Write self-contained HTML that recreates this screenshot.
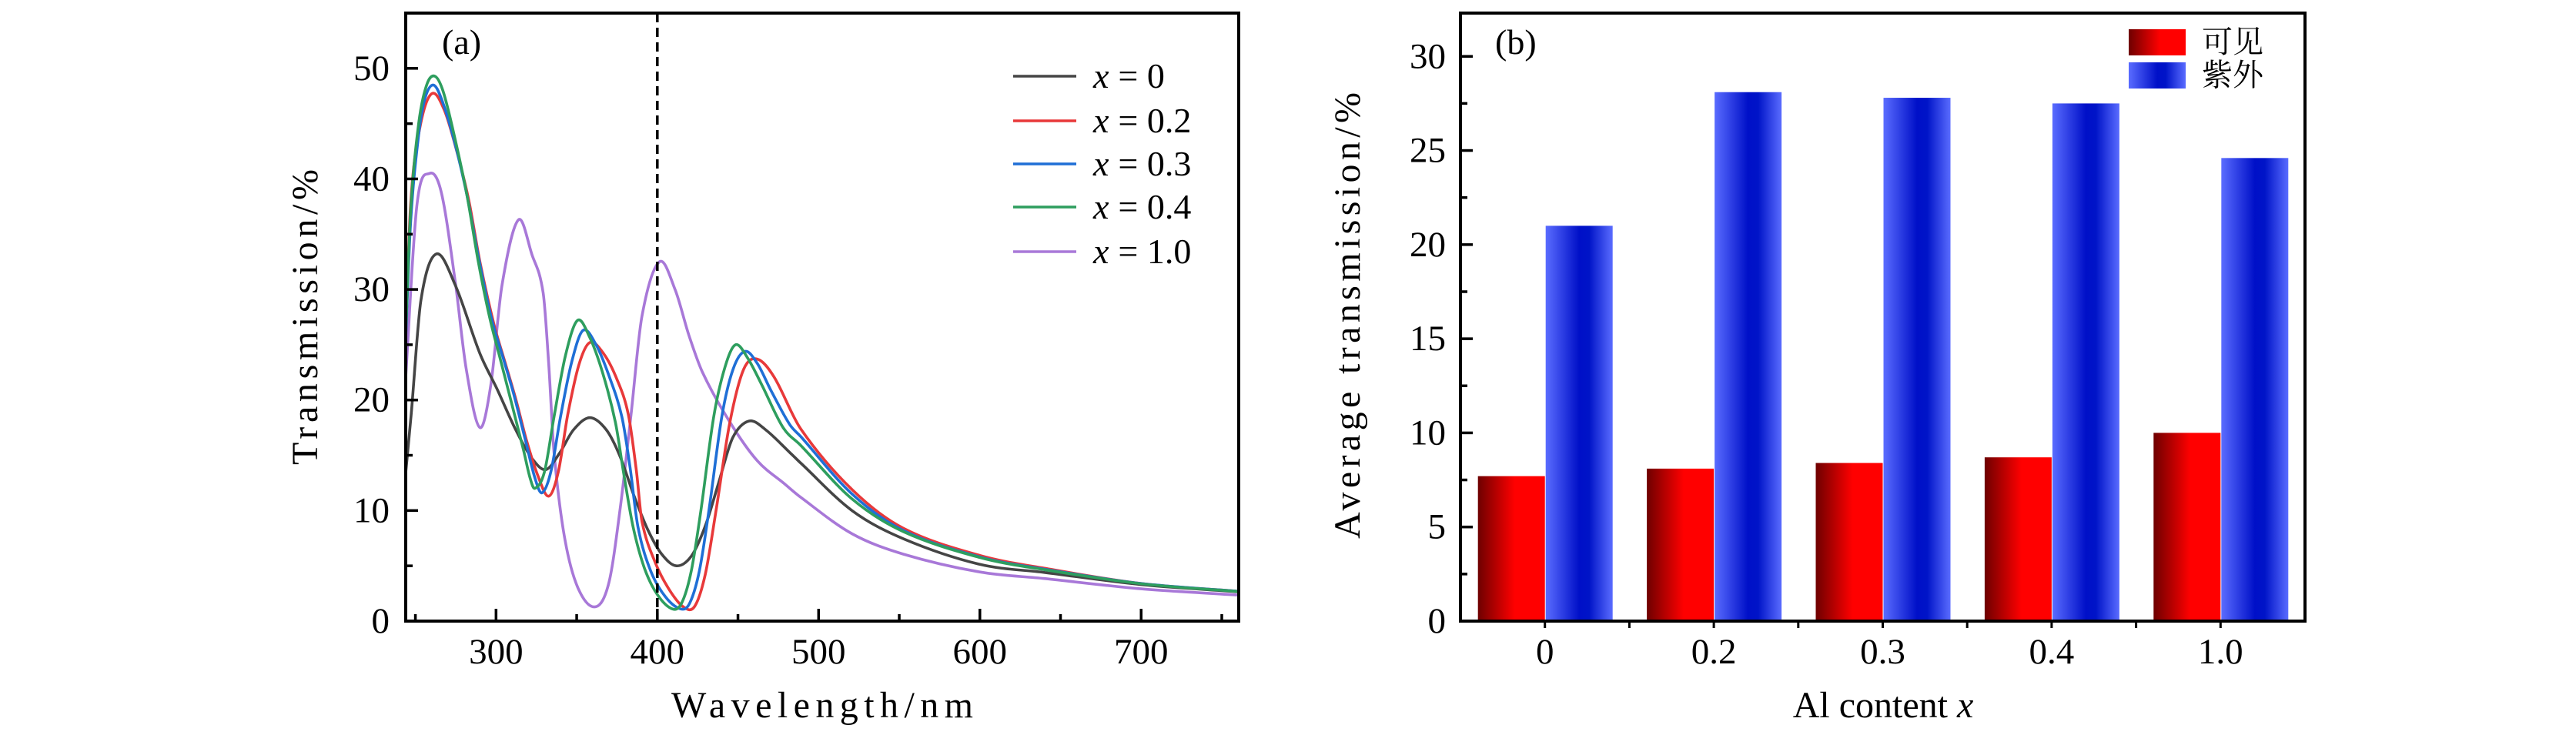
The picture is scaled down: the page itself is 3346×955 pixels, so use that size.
<!DOCTYPE html>
<html><head><meta charset="utf-8"><style>
html,body{margin:0;padding:0;background:#fff;}
svg{display:block;}
text{font-family:"Liberation Serif","Noto Serif CJK SC",serif;fill:#000;}
</style></head><body>
<svg id="fig" width="3346" height="955" viewBox="0 0 3346 955" xmlns="http://www.w3.org/2000/svg">
<defs>
<linearGradient id="gRed" x1="0" x2="1" y1="0" y2="0">
<stop offset="0" stop-color="#6e0000"/><stop offset="0.55" stop-color="#ff0000"/><stop offset="1" stop-color="#ff0000"/></linearGradient>
<linearGradient id="gBlue" x1="0" x2="1" y1="0" y2="0">
<stop offset="0" stop-color="#5a6cff"/><stop offset="0.5" stop-color="#0010c8"/><stop offset="0.65" stop-color="#0014c8"/><stop offset="1" stop-color="#5a6cff"/></linearGradient>
</defs>
<g id="panelA"></g>
<g id="panelB"></g>
</svg>
<script>
// ---------- Panel (a) data ----------
const seriesNames = ["x = 0","x = 0.2","x = 0.3","x = 0.4","x = 1.0"];
const seriesLabels = ["0","0.2","0.3","0.4","1.0"];
const seriesColors = ["#454545","#e8393a","#1f6fd6","#2e9e5e","#a878d8"];
const wlX0 = [243.7,247.4,253.4,262.8,274.7,290,300.3,312.2,322.4,330.9,339.4,348,358.2,368.4,376.9,385.4,394,402.5,411.8,421.2,430,438,446.8,457,467.2,482.5,488.9,520.7,552.5,600,640,700,760];
const tX0 = [13.0,18.7,29.0,33.2,30.4,24.2,21.1,17.3,14.7,13.7,15.2,17.3,18.4,17.3,14.9,11.4,8.3,6.1,5.0,5.9,8.7,12.5,16.6,18.1,17.3,15.2,14.3,10.0,7.45,5.13,4.4,3.3,2.65];
const wlX02 = [243.7,247,252.6,260,268,276.4,283.2,290,298.6,305.4,312.2,319,325.8,332.6,338.6,344.5,351.4,358.2,366.7,375.2,382,387.1,390.5,399,407.6,416,423,429.7,436.5,445,453.6,462,472.3,488.9,520.7,552.5,600,640,700,760];
const tX02 = [24.5,37.6,44.5,47.7,46.2,42.1,38.0,32.5,26.9,23.5,20.1,16.3,13.2,11.3,13.5,18.7,23.2,25.2,24.2,21.8,18.7,13.5,9.0,5.2,2.8,1.3,1.3,4.2,10.1,18.0,22.8,23.7,22.1,17.4,11.9,8.4,5.94,4.78,3.4,2.7];
const wlX03 = [243.7,247,252,256,261,266,274,282,289,297,304,311,318,324,328.4,334,340,347,354,362,370,378,383,388,396,405,414.4,420,426,432,440,447,454.4,462,470,482,488.9,520.7,552.5,600,640,700,760];
const tX03 = [24.5,36,44,47.3,48.5,47.3,43.5,38.5,33,27.5,24,20.5,16.5,13,11.6,13.5,18.5,23.5,26.3,25,22.2,18.5,14,8.5,4.5,2.2,1.1,1.6,4.5,10,18.5,22.8,24.4,23.3,21,17.8,16.7,11.5,8.2,5.8,4.7,3.4,2.7];
const wlX04 = [243.7,247,252,257,262,267,274,282,289,296,303,310,317,321,324,330,336,343,350.5,358,366,374,379,385,392,400,409.3,415,421,427,435,442,448.5,456,465,478,488.9,520.7,552.5,600,640,700,760];
const tX04 = [25,37,45,48.5,49.3,48,44,38.5,32.5,27.5,23.5,19.5,15.5,13,12,13.5,18.5,24,27.2,25.7,22.5,18,13.5,8.5,4.8,2.4,1.1,1.6,4.5,10,18.5,23,25,23.8,21.3,17.5,15.9,11.05,8.1,5.75,4.65,3.38,2.68];
const wlX10 = [243.7,250.9,258.9,266.2,274.7,281.5,290,296.8,303.7,313.9,322.4,329.2,332.6,336,342.8,351.4,362,370,376.9,383.7,390.5,401.3,411,419.5,428,445,462,479,488.9,520.7,552.5,600,640,700,760];
const tX10 = [21.4,37.6,40.5,38.7,30.7,22.8,17.5,21.4,30.4,36.3,33.1,29.7,23.4,15.2,7.3,2.8,1.3,3.5,10.1,18.7,27.6,32.5,30.0,25.9,22.5,18.0,14.5,12.4,11.2,7.9,6.06,4.44,3.85,2.92,2.35];
const xTicksA = [300,400,500,600,700];
const yTicksA = [0,10,20,30,40,50];
const markerWl = [400];

// ---------- Panel (b) data ----------
const catLabels = ["0","0.2","0.3","0.4","1.0"];
const visValues = [7.7,8.1,8.4,8.7,10.0];
const uvValues = [21.0,28.1,27.8,27.5,24.6];
const yTicksB = [0,5,10,15,20,25,30];
const legendB = ["可见","紫外"];

const NS="http://www.w3.org/2000/svg";
function mk(parent,tag,attrs,txt){const e=document.createElementNS(NS,tag);for(const k in attrs)e.setAttribute(k,attrs[k]);if(txt!==undefined)e.textContent=txt;parent.appendChild(e);return e;}

// ===== Panel A =====
const A=document.getElementById('panelA');
const aL=527,aR=1609,aT=17,aB=807,xMinA=244.0,xMaxA=760.5,yMaxA=55;
const xA=v=>aL+(v-xMinA)/(xMaxA-xMinA)*(aR-aL);
const yA=v=>aB-v/yMaxA*(aB-aT);
function smoothPath(xs,ys){
  const n=xs.length, m=[];
  for(let i=0;i<n;i++){
    const a=Math.max(0,i-1), b=Math.min(n-1,i+1);
    m.push((ys[b]-ys[a])/(xs[b]-xs[a]));
  }
  let d="M"+xA(xs[0]).toFixed(1)+","+yA(ys[0]).toFixed(1);
  for(let i=0;i<n-1;i++){
    const h=xs[i+1]-xs[i];
    const c1x=xs[i]+h/3, c1y=ys[i]+m[i]*h/3;
    const c2x=xs[i+1]-h/3, c2y=ys[i+1]-m[i+1]*h/3;
    d+=" C"+xA(c1x).toFixed(1)+","+yA(c1y).toFixed(1)+" "+xA(c2x).toFixed(1)+","+yA(c2y).toFixed(1)+" "+xA(xs[i+1]).toFixed(1)+","+yA(ys[i+1]).toFixed(1);
  }
  return d;
}
const clipA=mk(document.querySelector('defs'),'clipPath',{id:'clipA'});
mk(clipA,'rect',{x:aL,y:aT,width:aR-aL,height:aB-aT});
const wls=[wlX0,wlX02,wlX03,wlX04,wlX10], ts=[tX0,tX02,tX03,tX04,tX10];
const curveG=mk(A,'g',{'clip-path':'url(#clipA)'});


markerWl.forEach(w=>{
  const l=mk(A,'line',{x1:xA(w),x2:xA(w),y1:aT,y2:aB,stroke:'#000','stroke-width':3.5,'stroke-dasharray':'12,7'});
  
  
});
[4,0,1,2,3].forEach(i=>{
  const c=mk(curveG,'path',{d:smoothPath(wls[i],ts[i]),fill:'none',stroke:seriesColors[i],'stroke-width':3.6,'stroke-linejoin':'round'});
  
  
});
const fA=mk(A,'rect',{x:aL,y:aT,width:aR-aL,height:aB-aT,fill:'none',stroke:'#000','stroke-width':4});


for(let w=250;w<=750;w+=50){
  const major=w%100===0;
  mk(A,'line',{x1:xA(w),x2:xA(w),y1:aB,y2:aB-(major?16:9),stroke:'#000','stroke-width':3.5});
}
xTicksA.forEach(w=>{
  const t=mk(A,'text',{x:xA(w),y:862,'font-size':47,'text-anchor':'middle'},String(w));
  
  
});
for(let v=0;v<=50;v+=5){
  const major=v%10===0;
  mk(A,'line',{x1:aL,x2:aL+(major?16:9),y1:yA(v),y2:yA(v),stroke:'#000','stroke-width':3.5});
}
yTicksA.forEach(v=>{
  const t=mk(A,'text',{x:506,y:yA(v)+15,'font-size':47,'text-anchor':'end'},String(v));
  
  
});
let t;
t=mk(A,'text',{x:0,y:0,'font-size':48,'text-anchor':'middle',transform:'translate(412,412) rotate(-90)',textLength:384,lengthAdjust:'spacing'},'Transmission/%');


t=mk(A,'text',{x:1068,y:932,'font-size':48,'text-anchor':'middle',textLength:392,lengthAdjust:'spacing'},'Wavelength/nm');


t=mk(A,'text',{x:574,y:70,'font-size':46},'(a)');


const legRows=[99,157,213,269,327];
seriesNames.forEach((n,i)=>{
  const g=mk(A,'g',{});
  
  
  mk(g,'line',{x1:1316,x2:1398,y1:legRows[i],y2:legRows[i],stroke:seriesColors[i],'stroke-width':3.6});
  const tx=mk(g,'text',{x:1420,y:legRows[i]+15,'font-size':46});
  mk(tx,'tspan',{'font-style':'italic'},'x');
  mk(tx,'tspan',{dx:12},'= '+seriesLabels[i]);
});

// ===== Panel B =====
const B=document.getElementById('panelB');
const bL=1897,bR=2994,bT=17,bB=807,yMaxB=32.3;
const slot=(bR-bL)/catLabels.length;
const xB=i=>bL+slot*(i+0.5);
const yB=v=>bB-v/yMaxB*(bB-bT);
const barW=87;
catLabels.forEach((c,i)=>{
  const r=mk(B,'rect',{x:xB(i)-barW,y:yB(visValues[i]),width:barW,height:bB-yB(visValues[i]),fill:'url(#gRed)'});
  
  
  const b=mk(B,'rect',{x:xB(i)+1,y:yB(uvValues[i]),width:barW,height:bB-yB(uvValues[i]),fill:'url(#gBlue)'});
  
  
});
const fB=mk(B,'rect',{x:bL,y:bT,width:bR-bL,height:bB-bT,fill:'none',stroke:'#000','stroke-width':4});


catLabels.forEach((c,i)=>{
  mk(B,'line',{x1:xB(i),x2:xB(i),y1:bB,y2:bB+9,stroke:'#000','stroke-width':3});
  if(i>0) mk(B,'line',{x1:bL+slot*i,x2:bL+slot*i,y1:bB,y2:bB+9,stroke:'#000','stroke-width':3});
  const tt=mk(B,'text',{x:xB(i),y:862,'font-size':47,'text-anchor':'middle'},c);
  
  
});
for(let v=0;v<=30;v+=2.5){
  const major=v%5===0;
  mk(B,'line',{x1:bL,x2:bL+(major?16:9),y1:yB(v),y2:yB(v),stroke:'#000','stroke-width':3.5});
}
yTicksB.forEach(v=>{
  const tt=mk(B,'text',{x:1878,y:yB(v)+15,'font-size':47,'text-anchor':'end'},String(v));
  
  
});
t=mk(B,'text',{x:0,y:0,'font-size':48,'text-anchor':'middle',transform:'translate(1766,410) rotate(-90)',textLength:580,lengthAdjust:'spacing'},'Average transmission/%');


t=mk(B,'text',{x:2446,y:932,'font-size':48,'text-anchor':'middle'});
mk(t,'tspan',{},'Al content ');
mk(t,'tspan',{'font-style':'italic'},'x');


t=mk(B,'text',{x:1942,y:70,'font-size':46},'(b)');


const legFills=['url(#gRed)','url(#gBlue)'];
const legY=[38,81];
legendB.forEach((n,i)=>{
  const g=mk(B,'g',{});
  
  
  mk(g,'rect',{x:2765,y:legY[i],width:74,height:34,fill:legFills[i]});
  mk(g,'text',{x:2860,y:legY[i]+30,'font-size':40,'font-family':'"Noto Serif CJK SC","Noto Sans CJK SC",serif'},n);
});
</script>
</body></html>
